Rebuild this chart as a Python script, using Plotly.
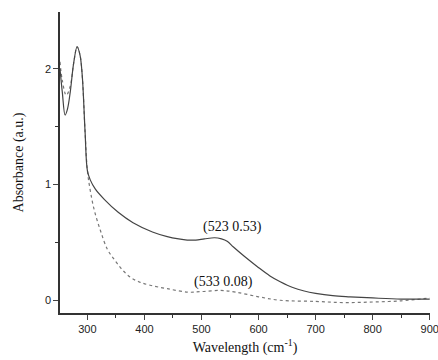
import plotly.graph_objects as go

wl_solid = [252, 256, 261, 265, 270, 276, 282, 287, 291, 296, 300, 305, 314, 330, 354, 380,
            414, 440, 460, 475, 490, 505, 523, 535, 545, 556, 575, 598, 620, 638, 660, 680, 700,
            730, 760, 800, 850, 900]
abs_solid = [2.00, 1.80, 1.60, 1.65, 1.80, 2.05, 2.19, 2.12, 1.94, 1.45, 1.12, 1.04, 0.96, 0.87,
             0.76, 0.67, 0.59, 0.55, 0.53, 0.52, 0.52, 0.53, 0.54, 0.53, 0.51, 0.46, 0.38,
             0.29, 0.21, 0.16, 0.11, 0.08, 0.06, 0.04, 0.03, 0.02, 0.01, 0.01]

wl_dot = [252, 256, 263, 270, 276, 282, 287, 291, 296, 300, 305, 312, 323, 335, 346, 360, 375, 390,
          410, 440, 477, 500, 533, 560, 600, 638, 700, 750, 800, 850, 900]
abs_dot = [2.06, 1.90, 1.77, 1.85, 2.05, 2.19, 2.12, 1.94, 1.45, 1.12, 0.95, 0.78, 0.60, 0.44, 0.36,
           0.27, 0.20, 0.16, 0.13, 0.10, 0.07, 0.075, 0.085, 0.07, 0.03, 0.00, -0.01, -0.02, -0.015,
           -0.005, 0.02]

x_ticks = [300, 400, 500, 600, 700, 800, 900]
y_ticks = [0, 1, 2]

fig = go.Figure()
fig.add_trace(go.Scatter(x=wl_dot, y=abs_dot, mode="lines",
                         line=dict(color="#777777", width=1.2, dash="dot", shape="spline")))
fig.add_trace(go.Scatter(x=wl_solid, y=abs_solid, mode="lines",
                         line=dict(color="#444444", width=1.2, shape="spline")))

fig.add_annotation(x=554, y=0.63, text="(523 0.53)", showarrow=False,
                   font=dict(family="Liberation Serif", size=14, color="#111111"))
fig.add_annotation(x=539, y=0.16, text="(533 0.08)", showarrow=False,
                   font=dict(family="Liberation Serif", size=14, color="#111111"))

fig.update_layout(
    width=438, height=360,
    margin=dict(l=60, r=8, t=12, b=47),
    paper_bgcolor="white", plot_bgcolor="white",
    showlegend=False,
)
fig.update_xaxes(
    range=[252, 900.5], tickvals=x_ticks, ticks="outside", ticklen=5, tickwidth=1.2,
    automargin=False, ticklabeloverflow="allow",
    showline=True, linecolor="#333333", linewidth=1.5, showgrid=False, zeroline=False,
    tickfont=dict(family="Liberation Sans", size=11, color="#222222"),
    minor=dict(dtick=50, ticks="outside", ticklen=3, tickcolor="#333333", showgrid=False),
    title=dict(text="Wavelength (cm<sup>-1</sup>)", standoff=8,
               font=dict(family="Liberation Serif", size=14, color="#111111")),
)
fig.update_yaxes(
    range=[-0.11, 2.49], tickvals=y_ticks, ticks="outside", ticklen=5, tickwidth=1.2,
    automargin=False,
    showline=True, linecolor="#333333", linewidth=1.5, showgrid=False, zeroline=False,
    tickfont=dict(family="Liberation Sans", size=11, color="#222222"),
    minor=dict(dtick=0.5, ticks="outside", ticklen=3, tickcolor="#333333", showgrid=False),
    title=dict(text="Absorbance (a.u.)", standoff=18,
               font=dict(family="Liberation Serif", size=14, color="#111111")),
)

fig.write_html("out.html", config={"displayModeBar": False},
               post_script="document.body.style.margin='0';")
